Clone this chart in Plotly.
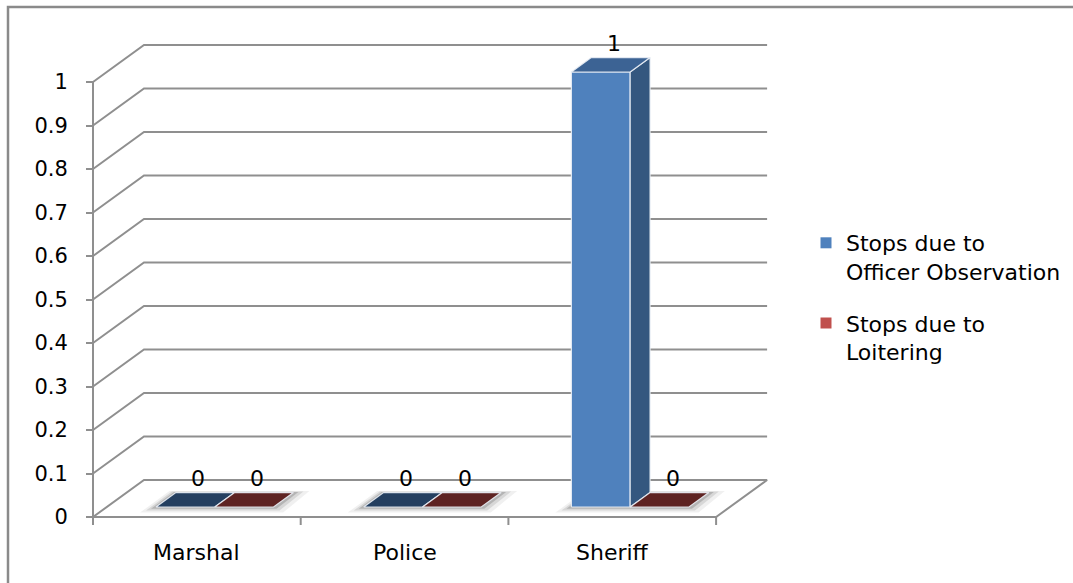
import plotly.graph_objects as go

# ---------------- data ----------------
categories = ["Marshal", "Police", "Sheriff"]
officer_observation = [0, 0, 1]
loitering = [0, 0, 0]
series_names = ["Stops due to<br>Officer Observation", "Stops due to<br>Loitering"]
y_ticks = [0, 0.1, 0.2, 0.3, 0.4, 0.5, 0.6, 0.7, 0.8, 0.9, 1.0]
y_tick_labels = ["0", "0.1", "0.2", "0.3", "0.4", "0.5", "0.6", "0.7", "0.8", "0.9", "1"]

# ---------------- layout constants ----------------
FIG_W, FIG_H = 1073, 583
PX_PER_X = 207.7          # pixels per category unit
PX_PER_Y = 435.0          # pixels per value unit
X0_PX, Y0_PX = 93, 517    # pixel position of the front origin
DX = 51 / PX_PER_X        # depth offset of back wall (x units)
DY = 37 / PX_PER_Y        # depth offset of back wall (y units)
F0, F1 = 0.27, 0.66       # bar front / back depth fractions
BAR_W = 0.283
GROUP_C = 0.52
FONT = "DejaVu Sans"
FS = 22
FS_TICK = 21
GRID = "#8f8f8f"

front_col = ["#4F81BD", "#C0504D"]
side_col = ["#34577F", "#7E2F2D"]
top_col = ["#3C6394", "#9A3E3B"]
zero_col = ["#243F60", "#5E2322"]
legend_col = ["#4F81BD", "#C0504D"]

series = [officer_observation, loitering]
n_cat = len(categories)
ymax = y_ticks[-1]

fig = go.Figure()


def poly(xs, ys, fill, line="rgba(0,0,0,0)", lw=0):
    fig.add_trace(go.Scatter(x=xs + [xs[0]], y=ys + [ys[0]], mode="lines", fill="toself",
                             fillcolor=fill, line=dict(color=line, width=lw),
                             hoverinfo="skip", showlegend=False))


# gridlines: side wall + back wall
gx, gy = [], []
for v in y_ticks[1:]:
    gx += [0, DX, n_cat + DX, None]
    gy += [v, v + DY, v + DY, None]
fig.add_trace(go.Scatter(x=gx, y=gy, mode="lines", line=dict(color=GRID, width=2),
                         hoverinfo="skip", showlegend=False))

# floor
poly([0, DX, n_cat + DX, n_cat], [0, DY, DY, 0], "white", GRID, 2)

# category tick marks and front axis line
tx, ty = [], []
for k in range(n_cat + 1):
    tx += [k, k, None]
    ty += [0, -8 / PX_PER_Y, None]
tx += [0, 0, None]
ty += [0, ymax, None]
fig.add_trace(go.Scatter(x=tx, y=ty, mode="lines", line=dict(color=GRID, width=2),
                         hoverinfo="skip", showlegend=False))

# shadows under bar groups
for i in range(n_cat):
    xa = GROUP_C + i - BAR_W
    xb = GROUP_C + i + BAR_W
    for grow, alpha in [(16, 0.06), (10, 0.10), (5, 0.16)]:
        gxp = grow / PX_PER_X
        gyp = grow * 0.35 / PX_PER_Y
        poly([xa + F0 * DX - gxp, xb + F0 * DX + gxp * 0.6, xb + F1 * DX + gxp, xa + F1 * DX - gxp * 0.4],
             [F0 * DY - gyp, F0 * DY - gyp, F1 * DY + gyp * 0.3, F1 * DY + gyp * 0.3],
             f"rgba(0,0,0,{alpha})")

# bars
edge = "rgba(235,240,246,0.9)"
for i in range(n_cat):
    for s in range(len(series)):
        v = series[s][i]
        xa = GROUP_C + i - BAR_W + s * BAR_W
        xb = xa + BAR_W
        if v == 0:
            poly([xa + F0 * DX, xb + F0 * DX, xb + F1 * DX, xa + F1 * DX],
                 [F0 * DY, F0 * DY, F1 * DY, F1 * DY], zero_col[s], edge, 1.2)
        else:
            # front
            poly([xa + F0 * DX, xb + F0 * DX, xb + F0 * DX, xa + F0 * DX],
                 [F0 * DY, F0 * DY, v + F0 * DY, v + F0 * DY], front_col[s], edge, 1.2)
            # side
            poly([xb + F0 * DX, xb + F1 * DX, xb + F1 * DX, xb + F0 * DX],
                 [F0 * DY, F1 * DY, v + F1 * DY, v + F0 * DY], side_col[s], edge, 1.2)
            # top
            poly([xa + F0 * DX, xb + F0 * DX, xb + F1 * DX, xa + F1 * DX],
                 [v + F0 * DY, v + F0 * DY, v + F1 * DY, v + F1 * DY], top_col[s], edge, 1.2)
        fig.add_annotation(x=(xa + xb) / 2 + (F0 + F1) / 2 * DX, y=v + (F0 + F1) / 2 * DY,
                           text=f"{v:g}", showarrow=False, yshift=21, xshift=3,
                           font=dict(family=FONT, size=FS, color="#000"))

# category labels
for i, c in enumerate(categories):
    fig.add_annotation(x=i + 0.5, y=0, text=c, showarrow=False, yshift=-35,
                       font=dict(family=FONT, size=FS, color="#000"))

# legend entries
for s, name in enumerate(series_names):
    fig.add_trace(go.Scatter(x=[None], y=[None], mode="markers", name=name,
                             legendgroup=str(s),
                             marker=dict(symbol="square", size=11, color=legend_col[s])))

# outer frame
fig.add_shape(type="rect", xref="paper", yref="paper", x0=8 / FIG_W, x1=1.05,
              y0=-0.05, y1=1 - 7 / FIG_H, line=dict(color="#8a8a8a", width=2.5))

fig.update_layout(
    width=FIG_W, height=FIG_H,
    margin=dict(l=0, r=0, t=0, b=0),
    paper_bgcolor="white", plot_bgcolor="white",
    xaxis=dict(range=[-X0_PX / PX_PER_X, (FIG_W - X0_PX) / PX_PER_X], visible=False,
               domain=[0, 1]),
    yaxis=dict(range=[(Y0_PX - FIG_H) / PX_PER_Y, Y0_PX / PX_PER_Y], domain=[0, 1],
               anchor="free", position=X0_PX / FIG_W, tickvals=y_ticks,
               ticktext=y_tick_labels, showline=False, showgrid=False, zeroline=False,
               ticks="outside", ticklen=7, tickwidth=2, tickcolor=GRID,
               ticklabelstandoff=14,
               tickfont=dict(family=FONT, size=FS_TICK, color="#000")),
    legend=dict(x=806 / FIG_W, y=1 - 222 / FIG_H, xanchor="left", yanchor="top",
                font=dict(family=FONT, size=FS, color="#000"), tracegroupgap=20,
                valign="top", bgcolor="rgba(0,0,0,0)"),
    showlegend=True,
    hovermode=False,
)

fig.write_html("out.html")
